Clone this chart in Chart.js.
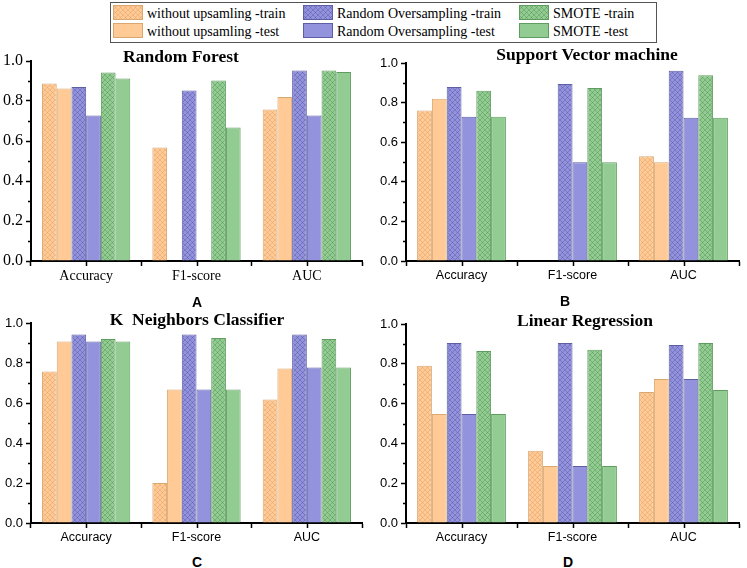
<!DOCTYPE html>
<html><head><meta charset="utf-8">
<script src="https://cdn.jsdelivr.net/npm/chart.js@4/dist/chart.umd.min.js"></script>
<style>
body{margin:0;background:#fff;width:747px;height:568px;position:relative;overflow:hidden}
canvas.panel{position:absolute}
.ttl{position:absolute;font-family:"Liberation Serif";font-weight:bold;font-size:17.5px;white-space:pre;transform:translateX(-50%);line-height:1;color:#000}
.lbl{position:absolute;font-family:"Liberation Sans";font-weight:bold;font-size:14px;transform:translate(-50%,-50%);line-height:1;color:#000}
#legend{position:absolute;left:110px;top:2px;width:547px;height:41px;border:1px solid #555;box-sizing:border-box}
.sw{position:absolute}
.li{position:absolute;font-family:"Liberation Serif";font-size:14px;white-space:nowrap;line-height:1;color:#000}
</style></head><body>
<div id="legend"></div>
<canvas id="cA" class="panel" width="370" height="240" style="left:0;top:45px"></canvas>
<canvas id="cB" class="panel" width="377" height="240" style="left:370px;top:45px"></canvas>
<canvas id="cC" class="panel" width="370" height="240" style="left:0;top:305px"></canvas>
<canvas id="cD" class="panel" width="377" height="240" style="left:370px;top:305px"></canvas>
<div class="ttl" style="left:181px;top:48px">Random Forest</div>
<div class="ttl" style="left:587px;top:46px">Support Vector machine</div>
<div class="ttl" style="left:197px;top:311px">K  Neighbors Classifier</div>
<div class="ttl" style="left:585px;top:312px">Linear Regression</div>
<div class="lbl" style="left:197px;top:302px">A</div>
<div class="lbl" style="left:565px;top:301px">B</div>
<div class="lbl" style="left:197px;top:562px">C</div>
<div class="lbl" style="left:568px;top:562px">D</div>
<script>
// ---- data ----
const categories = ['Accuracy', 'F1-score', 'AUC'];
const seriesNames = ['without upsamling -train', 'without upsamling -test', 'Random Oversampling -train', 'Random Oversampling -test', 'SMOTE -train', 'SMOTE -test'];
const yTickValues = [0.0, 0.2, 0.4, 0.6, 0.8, 1.0];

// Random Forest
const rfWithoutTrain = [0.887, 0.567, 0.758];
const rfWithoutTest  = [0.862, null, 0.820];
const rfRosTrain     = [0.870, 0.852, 0.952];
const rfRosTest      = [0.728, null, 0.728];
const rfSmoteTrain   = [0.942, 0.902, 0.952];
const rfSmoteTest    = [0.912, 0.668, 0.945];
// Support Vector machine
const svmWithoutTrain = [0.760, null, 0.529];
const svmWithoutTest  = [0.820, null, 0.499];
const svmRosTrain     = [0.879, 0.894, 0.961];
const svmRosTest      = [0.728, 0.499, 0.724];
const svmSmoteTrain   = [0.860, 0.874, 0.938];
const svmSmoteTest    = [0.728, 0.499, 0.724];
// K Neighbors Classifier
const knnWithoutTrain = [0.758, 0.200, 0.617];
const knnWithoutTest  = [0.908, 0.667, 0.772];
const knnRosTrain     = [0.942, 0.942, 0.942];
const knnRosTest      = [0.908, 0.667, 0.778];
const knnSmoteTrain   = [0.920, 0.925, 0.920];
const knnSmoteTest    = [0.908, 0.667, 0.778];
// Linear Regression
const lrWithoutTrain = [0.790, 0.363, 0.658];
const lrWithoutTest  = [0.548, 0.286, 0.724];
const lrRosTrain     = [0.905, 0.905, 0.894];
const lrRosTest      = [0.548, 0.286, 0.724];
const lrSmoteTrain   = [0.864, 0.871, 0.905];
const lrSmoteTest    = [0.548, 0.286, 0.668];

// ---- styles ----
const baseColors = ['#FFCA96', '#FFCA96', '#9393DD', '#9393DD', '#93CC93', '#93CC93'];
const hatchColors = ['rgba(200,120,60,0.32)', null, 'rgba(40,40,120,0.32)', null, 'rgba(30,100,30,0.32)', null];
const borderColors = ['#D9A870', '#D9A870', '#5E5EA2', '#5E5EA2', '#5F9C5F', '#5F9C5F'];

function makeTile(base, line) {
  const s = 5;
  const c = document.createElement('canvas');
  c.width = s; c.height = s;
  const g = c.getContext('2d');
  g.fillStyle = base; g.fillRect(0, 0, s, s);
  if (line) {
    g.strokeStyle = line; g.lineWidth = 0.8;
    g.beginPath();
    for (const o of [-s, 0, s]) {
      g.moveTo(o, 0); g.lineTo(o + s, s);
      g.moveTo(o + s, 0); g.lineTo(o, s);
    }
    g.stroke();
  }
  return c;
}
function fillFor(i, ctx) {
  return ctx.createPattern(makeTile(baseColors[i], hatchColors[i]), 'repeat');
}

const axisExtras = {
  id: 'axisExtras',
  afterDraw(chart) {
    const ctx = chart.ctx, x = chart.scales.x, y = chart.scales.y, a = chart.chartArea;
    ctx.save();
    ctx.strokeStyle = '#000'; ctx.lineWidth = 1.5;
    ctx.beginPath();
    for (let i = 0; i < categories.length; i++) {
      const px = Math.round(x.getPixelForValue(i)) + 0.5;
      ctx.moveTo(px, a.bottom); ctx.lineTo(px, a.bottom + 5);
    }
    for (let k = 0; k < yTickValues.length - 1; k++) {
      const v = (yTickValues[k] + yTickValues[k + 1]) / 2;
      const py = Math.round(y.getPixelForValue(v)) + 0.5;
      ctx.moveTo(a.left - 3, py); ctx.lineTo(a.left, py);
    }
    ctx.stroke();
    ctx.restore();
  }
};

function makeChart(id, seriesData, opt) {
  const canvas = document.getElementById(id);
  const ctx = canvas.getContext('2d');
  const tickFontX = {family: opt.serif ? 'Liberation Serif' : 'Liberation Sans', size: opt.serif ? 14 : 12.5};
  const tickFontY = {family: opt.serif ? 'Liberation Serif' : 'Liberation Sans', size: opt.serif ? 16 : 13};
  return new Chart(ctx, {
    type: 'bar',
    data: {
      labels: categories,
      datasets: seriesData.map((d, i) => ({
        label: seriesNames[i],
        data: d,
        backgroundColor: fillFor(i, ctx),
        borderColor: borderColors[i],
        borderWidth: 1,
        categoryPercentage: 0.8,
        barPercentage: 1.0
      }))
    },
    options: {
      responsive: false,
      animation: false,
      devicePixelRatio: 1,
      layout: {padding: {left: 0, top: opt.top, right: opt.right, bottom: 0}},
      plugins: {legend: {display: false}, tooltip: {enabled: false}, title: {display: false}},
      scales: {
        x: {
          afterFit(s) { s.height = opt.xh; },
          grid: {display: true, drawOnChartArea: false, drawTicks: true, tickLength: 5, tickColor: '#000', tickWidth: 1.5, offset: true},
          border: {display: true, color: '#000', width: 2},
          ticks: {font: tickFontX, color: '#000', padding: 2}
        },
        y: {
          min: 0, max: 1,
          afterFit(s) { s.width = opt.yw; },
          afterBuildTicks(s) { s.ticks = yTickValues.map(v => ({value: v})); },
          grid: {display: true, drawOnChartArea: false, drawTicks: true, tickLength: 5, tickColor: '#000', tickWidth: 1.5},
          border: {display: true, color: '#000', width: 2},
          ticks: {font: tickFontY, color: '#000', padding: 3, callback: v => Number(v).toFixed(1)}
        }
      }
    },
    plugins: [axisExtras]
  });
}

makeChart('cA', [rfWithoutTrain, rfWithoutTest, rfRosTrain, rfRosTest, rfSmoteTrain, rfSmoteTest], {serif: true, top: 16, right: 8, xh: 24, yw: 31});
makeChart('cB', [svmWithoutTrain, svmWithoutTest, svmRosTrain, svmRosTest, svmSmoteTrain, svmSmoteTest], {serif: false, top: 18, right: 8, xh: 24, yw: 36});
makeChart('cC', [knnWithoutTrain, knnWithoutTest, knnRosTrain, knnRosTest, knnSmoteTrain, knnSmoteTest], {serif: false, top: 18, right: 8, xh: 22, yw: 31});
makeChart('cD', [lrWithoutTrain, lrWithoutTest, lrRosTrain, lrRosTest, lrSmoteTrain, lrSmoteTest], {serif: false, top: 19, right: 8, xh: 22, yw: 36});

// ---- legend (column-major, 3 columns x 2 rows) ----
const legend = document.getElementById('legend');
const colSwatchX = [2, 192, 408];
const colTextX = [36, 226, 442];
const rowSwatchY = [2, 20];
const rowTextY = [4, 22];
seriesNames.forEach((name, i) => {
  const col = Math.floor(i / 2), row = i % 2;
  const sw = document.createElement('canvas');
  sw.width = 30; sw.height = 15; sw.className = 'sw';
  sw.style.left = colSwatchX[col] + 'px'; sw.style.top = rowSwatchY[row] + 'px';
  legend.appendChild(sw);
  const g = sw.getContext('2d');
  g.fillStyle = g.createPattern(makeTile(baseColors[i], hatchColors[i]), 'repeat');
  g.fillRect(0, 0, 30, 15);
  g.strokeStyle = borderColors[i]; g.lineWidth = 1;
  g.strokeRect(0.5, 0.5, 29, 14);
  const t = document.createElement('div');
  t.className = 'li'; t.textContent = name;
  t.style.left = colTextX[col] + 'px'; t.style.top = rowTextY[row] + 'px';
  legend.appendChild(t);
});
</script>
</body></html>
